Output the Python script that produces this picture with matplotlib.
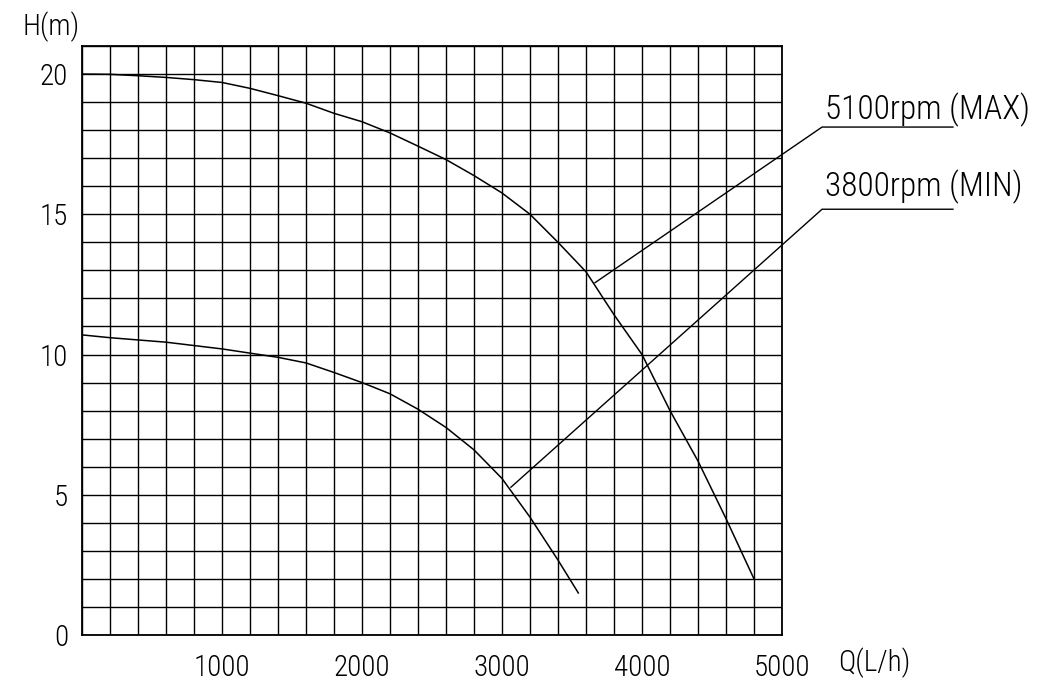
import numpy as np
import matplotlib
matplotlib.use('Agg')
import matplotlib.pyplot as plt
from matplotlib import font_manager

# narrow font to mimic the CAD lettering, fall back if not installed
names = {f.name for f in font_manager.fontManager.ttflist}
if 'Roboto Condensed' in names:
    fam, tick_fs, note_fs = 'Roboto Condensed', 21, 24
elif 'Liberation Sans Narrow' in names:
    fam, tick_fs, note_fs = 'Liberation Sans Narrow', 21, 24
else:
    fam, tick_fs, note_fs = 'Liberation Sans', 17, 20
plt.rcParams['font.family'] = [fam, 'DejaVu Sans']
plt.rcParams['font.weight'] = 'light'

# pump curves
q_max = [0, 200, 400, 600, 800, 1000, 1200, 1400, 1600, 1800, 2000, 2200,
         2400, 2600, 2800, 3000, 3200, 3400, 3600, 3800, 4000, 4200, 4400,
         4600, 4800]
h_max = [20.0, 19.99, 19.94, 19.88, 19.8, 19.7, 19.49, 19.23, 18.96, 18.6,
         18.3, 17.9, 17.43, 16.95, 16.38, 15.76, 15.0, 14.0, 12.95, 11.42,
         10.0, 8.0, 6.2, 4.15, 2.0]

q_min = [0, 200, 400, 600, 800, 1000, 1200, 1400, 1600, 1800, 2000, 2200,
         2400, 2600, 2800, 3000, 3200, 3400, 3545]
h_min = [10.7, 10.6, 10.52, 10.44, 10.32, 10.2, 10.05, 9.9, 9.7, 9.36, 9.0,
         8.6, 8.05, 7.4, 6.6, 5.58, 4.2, 2.67, 1.5]

labels = ['5100rpm (MAX)', '3800rpm (MIN)']
x_ticklabels = ['1000', '2000', '3000', '4000', '5000']
y_ticklabels = ['0', '5', '10', '15', '20']

fig = plt.figure(figsize=(10.54, 6.96), dpi=100)
ax = fig.add_axes([82 / 1054, 61 / 696, 700 / 1054, 589 / 696])

ax.plot(q_max, h_max, color='black', lw=1.1)
ax.plot(q_min, h_min, color='black', lw=1.1)

ax.set_xlim(0, 5000)
ax.set_ylim(0, 21)

xt = np.arange(0, 5001, 200)
ax.set_xticks(xt)
ax.set_xticklabels([s if s in x_ticklabels else '' for s in map(str, xt)])
yt = np.arange(0, 22, 1)
ax.set_yticks(yt)
ax.set_yticklabels([s if s in y_ticklabels else '' for s in map(str, yt)])
ax.tick_params(length=0, labelsize=tick_fs)
ax.tick_params(axis='x', pad=14)
ax.tick_params(axis='y', pad=10)
ax.grid(True, color='black', lw=1.0)
for s in ax.spines.values():
    s.set_linewidth(1.3)

# leader lines with underlined labels
leaders = [((3664, 12.56), 18.11), ((3064, 5.27), 15.18)]
for (qa, ha), hl in leaders:
    ax.plot([qa, 5286, 6221], [ha, hl, hl], color='black', lw=1.0,
            clip_on=False)
ax.text(5307, 18.39, labels[0], fontsize=note_fs, va='baseline', ha='left')
ax.text(5307, 15.65, labels[1], fontsize=note_fs, va='baseline', ha='left')

fig.text(51 / 1054, 1 - 27 / 696, 'H(m)', fontsize=tick_fs, ha='center', va='center')
fig.text(874 / 1054, 1 - 663 / 696, 'Q(L/h)', fontsize=tick_fs, ha='center', va='center')

plt.savefig('out.png', dpi=100)
